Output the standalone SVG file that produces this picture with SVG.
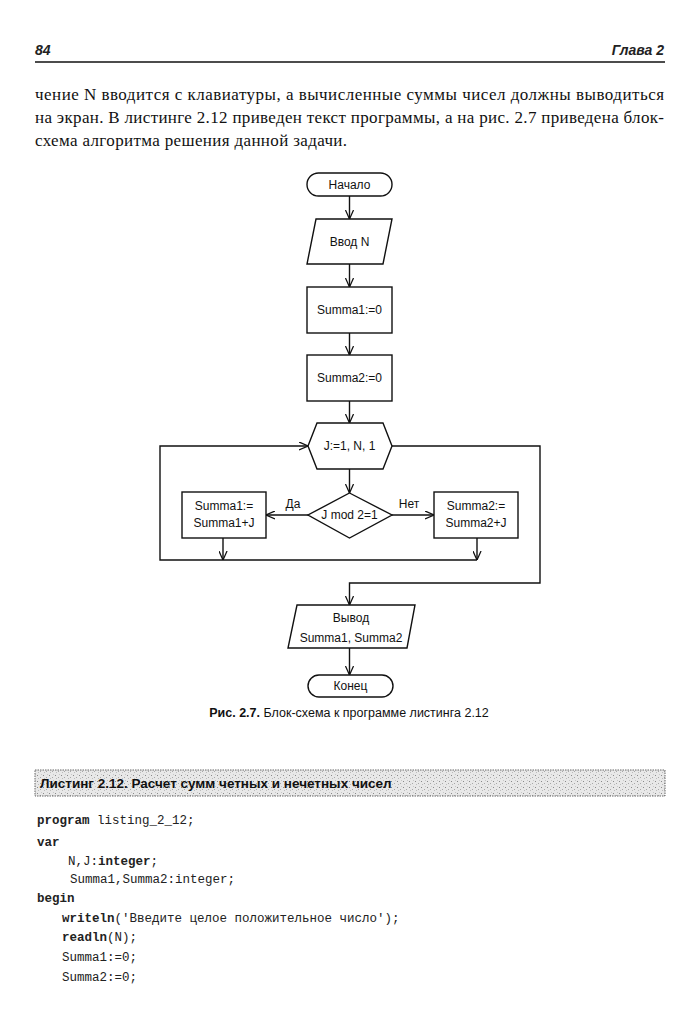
<svg xmlns="http://www.w3.org/2000/svg" width="700" height="1024" viewBox="0 0 700 1024">
<defs>
<marker id="arr" viewBox="0 0 10 10" refX="10" refY="5" markerWidth="9" markerHeight="9" markerUnits="userSpaceOnUse" orient="auto">
<path d="M0,0.5 L10,5 L0,9.5" fill="none" stroke="#111" stroke-width="1.4"/>
</marker>
<pattern id="stip" width="6" height="6" patternUnits="userSpaceOnUse">
<rect width="6" height="6" fill="#e8e8e8"/>
<rect x="1" y="1" width="1" height="1" fill="#8a8a8a"/>
<rect x="4" y="3" width="1" height="1" fill="#a8a8a8"/>
<rect x="2" y="4" width="1" height="1" fill="#bcbcbc"/>
<rect x="5" y="0" width="1" height="1" fill="#c8c8c8"/>
</pattern>
</defs>
<style>
.sh{fill:#fff;stroke:#111;stroke-width:1.4}
.ln{fill:none;stroke:#111;stroke-width:1.4}
.t{font-family:"Liberation Sans",Arial,sans-serif;font-size:12px;fill:#111;text-anchor:middle}
.cap{font-family:"Liberation Sans",Arial,sans-serif;font-size:12.5px;fill:#111;text-anchor:middle}
.body{font-family:"Liberation Serif","Times New Roman",serif;font-size:17px;fill:#111}
.hdr{font-family:"Liberation Sans",Arial,sans-serif;font-size:14px;font-weight:bold;font-style:italic;fill:#222}
.code{font-family:"Liberation Mono","Courier New",monospace;font-size:12.5px;fill:#222}
.kw{font-weight:bold}
</style>
<rect width="700" height="1024" fill="#fff"/>

<g id="page-header">
<text class="hdr" x="35" y="55">84</text>
<text class="hdr" x="664" y="55" text-anchor="end">Глава 2</text>
<line x1="35" y1="62" x2="665" y2="62" stroke="#111" stroke-width="1.6"/>
</g>

<g id="body-text">
<text class="body" x="35" y="100" textLength="629" lengthAdjust="spacing">чение N вводится с клавиатуры, а вычисленные суммы чисел должны выводиться</text>
<text class="body" x="35" y="123" textLength="629" lengthAdjust="spacing">на экран. В листинге 2.12 приведен текст программы, а на рис. 2.7 приведена блок-</text>
<text class="body" x="35" y="146" textLength="312" lengthAdjust="spacing">схема алгоритма решения данной задачи.</text>
</g>

<g id="connectors">
<line class="ln" x1="349.5" y1="196" x2="349.5" y2="219" marker-end="url(#arr)"/>
<line class="ln" x1="349.5" y1="264" x2="349.5" y2="287" marker-end="url(#arr)"/>
<line class="ln" x1="349.5" y1="333" x2="349.5" y2="355" marker-end="url(#arr)"/>
<line class="ln" x1="349.5" y1="401" x2="349.5" y2="423" marker-end="url(#arr)"/>
<line class="ln" x1="349.5" y1="469" x2="349.5" y2="493" marker-end="url(#arr)"/>
<line class="ln" x1="308" y1="515" x2="266" y2="515" marker-end="url(#arr)"/>
<line class="ln" x1="392" y1="515" x2="434" y2="515" marker-end="url(#arr)"/>
<line class="ln" x1="223" y1="538" x2="223" y2="560" marker-end="url(#arr)"/>
<line class="ln" x1="477" y1="538" x2="477" y2="560" marker-end="url(#arr)"/>
<polyline class="ln" points="477,560 160,560 160,446 308,446" marker-end="url(#arr)"/>
<polyline class="ln" points="392,446 540,446 540,583 349.5,583 349.5,605" marker-end="url(#arr)"/>
<line class="ln" x1="349.5" y1="648" x2="349.5" y2="675" marker-end="url(#arr)"/>
<text class="t" x="293" y="508">Да</text>
<text class="t" x="409" y="508">Нет</text>
</g>

<g id="n-start">
<rect class="sh" x="307" y="173" width="85" height="23" rx="11.5"/>
<text class="t" x="349.5" y="189">Начало</text>
</g>
<g id="n-input">
<polygon class="sh" points="316,219 392,219 383,264 307,264"/>
<text class="t" x="349.5" y="246">Ввод N</text>
</g>
<g id="n-sum1">
<rect class="sh" x="307" y="287" width="85" height="46"/>
<text class="t" x="349.5" y="314">Summa1:=0</text>
</g>
<g id="n-sum2">
<rect class="sh" x="307" y="355" width="85" height="46"/>
<text class="t" x="349.5" y="382">Summa2:=0</text>
</g>
<g id="n-loop">
<polygon class="sh" points="308,446 317,423 383,423 392,446 383,469 317,469"/>
<text class="t" x="349.5" y="450">J:=1, N, 1</text>
</g>
<g id="n-cond">
<polygon class="sh" points="349.5,493 392,515 349.5,538 308,515"/>
<text class="t" x="349.5" y="519">J mod 2=1</text>
</g>
<g id="n-yes">
<rect class="sh" x="182" y="492" width="84" height="46"/>
<text class="t" x="224" y="510">Summa1:=</text>
<text class="t" x="224" y="527">Summa1+J</text>
</g>
<g id="n-no">
<rect class="sh" x="434" y="492" width="84" height="46"/>
<text class="t" x="476" y="510">Summa2:=</text>
<text class="t" x="476" y="527">Summa2+J</text>
</g>
<g id="n-output">
<polygon class="sh" points="297,605 415,605 407,648 288,648"/>
<text class="t" x="351" y="622">Вывод</text>
<text class="t" x="351" y="642">Summa1, Summa2</text>
</g>
<g id="n-end">
<rect class="sh" x="308" y="675" width="85" height="22" rx="11"/>
<text class="t" x="350.5" y="690">Конец</text>
</g>

<g id="caption">
<text class="cap" x="349" y="717"><tspan font-weight="bold">Рис. 2.7.</tspan> Блок-схема к программе листинга 2.12</text>
</g>

<g id="listing">
<rect x="35" y="770" width="630" height="26" fill="url(#stip)" stroke="#666" stroke-width="1" stroke-dasharray="1.5,1"/>
<text x="40" y="788" font-family="'Liberation Sans',Arial,sans-serif" font-size="13.5" font-weight="bold" fill="#111">Листинг 2.12. Расчет сумм четных и нечетных чисел</text>
<text class="code" x="37" y="824"><tspan class="kw">program</tspan> listing_2_12;</text>
<text class="code kw" x="37" y="846">var</text>
<text class="code" x="68" y="865">N,J:<tspan class="kw">integer</tspan>;</text>
<text class="code" x="70" y="883">Summa1,Summa2:integer;</text>
<text class="code kw" x="37" y="902">begin</text>
<text class="code" x="62" y="922"><tspan class="kw">writeln</tspan>('Введите целое положительное число');</text>
<text class="code" x="62" y="941"><tspan class="kw">readln</tspan>(N);</text>
<text class="code" x="62" y="961">Summa1:=0;</text>
<text class="code" x="62" y="981">Summa2:=0;</text>
</g>
</svg>
